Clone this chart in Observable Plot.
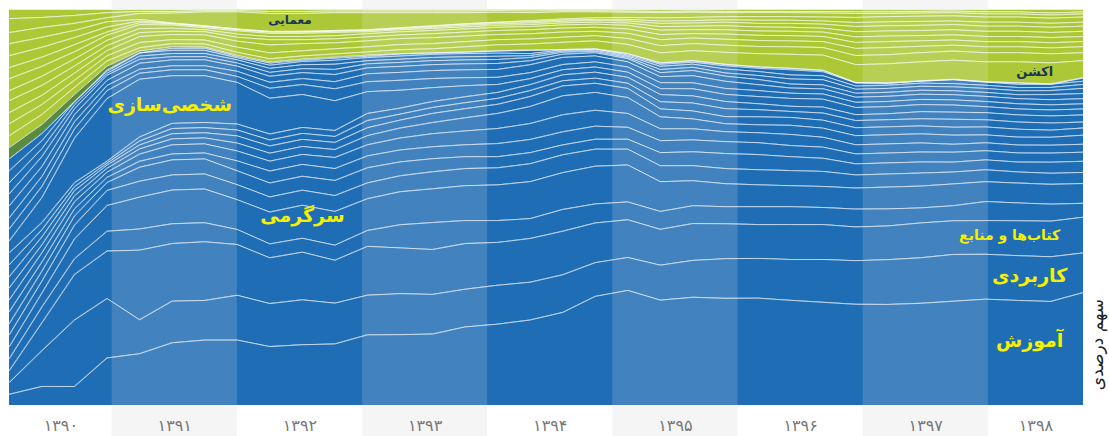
<!DOCTYPE html>
<html><head><meta charset="utf-8">
<script src="https://cdn.jsdelivr.net/npm/d3@7"></script>
<script src="https://cdn.jsdelivr.net/npm/@observablehq/plot@0.6"></script>
<style>html,body{margin:0;padding:0;background:#fff;} #chart svg{display:block}</style>
</head><body><div id="chart"></div>
<script>
// time points (fractional Persian years)
const periods = [1390.18,1390.44,1390.70,1390.96,1391.22,1391.48,1391.74,1392.00,1392.26,1392.52,1392.78,1393.04,1393.30,1393.56,1393.82,1394.08,1394.34,1394.60,1394.86,1395.12,1395.38,1395.64,1395.90,1396.16,1396.42,1396.68,1396.94,1397.20,1397.46,1397.72,1397.98,1398.24,1398.50,1398.76];
const years = [1390,1391,1392,1393,1394,1395,1396,1397,1398];
const yearLabels = ["۱۳۹۰","۱۳۹۱","۱۳۹۲","۱۳۹۳","۱۳۹۴","۱۳۹۵","۱۳۹۶","۱۳۹۷","۱۳۹۸"];

// app categories (share %, bottom to top)
const appEducation = [2.8,4.8,4.8,12,13,15.8,16.5,16.5,14.8,15.3,15.5,17.8,17.8,18,19.8,20.5,21.5,23.5,27.5,29,26.5,27.3,27,27,26.5,26,25.5,25.5,25.8,26.3,26.8,26.5,26.3,28.5];
const appTools = [3,9,16.8,15,8.5,10.5,10,11.3,10.8,11.3,10.3,10,10.3,10,9.5,9.8,9.5,9.5,8.5,8.3,8.8,9.3,10,10,10.3,10.8,11,11.3,11.5,11.8,11.3,11.3,11.3,10];
const appBooks = [3,7,11.5,12,17.5,14.5,14.8,12.8,11.5,12,10.8,12.3,11.5,11.3,11.5,10.8,11,11,10,9.5,9,9.3,8.8,8.5,8.8,8.8,8.5,8.5,8.8,8.5,8.5,8.8,9,9];
const appReligion = [3,4,4,5,5.3,5,4.8,3.8,3.5,3.5,3.8,4,5.8,6.8,5.8,5.5,5,5.5,4.8,4.5,4.5,4.5,4.3,4.5,4.5,4.3,4.5,4.3,3.8,3.8,4.8,4.5,4.3,3.5];
const appEntertainment = [3,3.5,5,6.5,8,8.5,8.5,7.5,8,8.3,8.5,8,8.3,8.5,8.8,9,9.3,9.3,9.5,9.3,7.5,6.3,5.8,5.5,5.3,5.3,5.3,5.5,5.5,5.5,5,5,5,5];
const appCommunication = [3,3,3.5,3.8,4,3.8,3.8,3.8,3.8,3.8,4,4,4,4.3,4.3,4.3,4.5,4.5,4.3,4,4,3.8,3.8,3.8,3.8,3.8,3.3,3.3,3.3,3,3,2.8,2.8,2.8];
const appSocial = [2.8,2.5,2.3,2,3.5,3.8,3.8,3.5,3.5,3.5,3.8,3.8,3.5,3.3,3,2.8,2.8,2.5,2.5,2.5,3.3,3.5,3.8,3.8,3.5,3.3,2.8,2.8,2.8,2.5,2.5,2.5,2.8,2.8];
const appPhoto = [3,2.3,1.8,1.3,1.5,1.5,1.5,2.5,3,3,3,3,3,3,3,3.3,3.3,3.3,3.3,3,3,3,3,3,2.8,2.8,2.5,2.5,2.5,2.5,2.3,2.3,2.3,2.3];
const appMusic = [3,2.3,1.8,1.3,1.8,2.3,2.3,2.5,2.5,2.5,2.8,2.8,3,3.3,3.5,3.8,4,4.3,4,3.5,3,2.8,2.5,2.5,2.8,2.5,2.3,2.3,2.3,2,2,2,2,2];
const appHealth = [3,2,1.5,1,1.3,1.5,1.5,2,2,2,2,2.3,2.5,2.8,3.3,3.8,4.3,4.8,4.5,4,3,2.5,2,2,2.3,2.3,2.3,2.3,2.3,2.3,2,2,2,2.3];
const appSports = [2.8,2,1.3,0.8,1,1.3,1.3,1.8,1.8,1.8,1.8,2,2,2.3,2.3,2.3,2.5,2.5,2.3,2.3,2,2,1.8,2,2,2,2,2,2,2,2,2,1.8,1.8];
const appCooking = [3,1.8,1,0.5,1,1.3,1.3,1.5,1.5,1.5,1.5,1.8,1.5,1.5,1.5,1.5,1.5,1.3,1.3,1.3,1.8,2,2,1.8,1.5,1.8,1.8,1.8,1.8,2,1.8,1.8,1.8,1.5];
const appShopping = [3,1.8,1,0.5,1,1.3,1.3,1.5,1.5,1.5,1.5,1.8,1.5,1.5,1.5,1.5,1.5,1.5,1.5,1.5,1.8,1.8,1.8,1.5,1.3,1.5,1.5,1.5,1.8,1.8,1.8,1.8,1.8,1.8];
const appPersonalization = [3,6.3,11.3,15.8,14.5,12,11.8,10.5,9,8.3,7.5,5.5,4.5,3.5,2.8,2,1.5,1.3,1.3,1.3,1.5,1.8,1.8,1.8,2,2,1.8,1.8,1.8,1.8,1.5,1.5,1.5,1.5];
const appTravel = [3,2.8,2.3,2,1.5,1.5,1.5,1.5,2.5,2.5,3,2.5,2.5,2.3,2,1.8,1.5,1.3,1.3,1.3,1.5,1.5,1.5,1.5,1.3,1.3,1.3,1.3,1.3,1.3,1.3,1.3,1.3,1.3];
const appFinance = [2.8,2.5,1.8,1.3,1,1,1,1.3,1.5,1.5,1.8,2,2,2,2,2,2,1.8,1.5,1.3,1.5,1.8,1.8,1.5,1.3,1.3,1.3,1.3,1.3,1.3,1.3,1.3,1.3,1.3];
const appNews = [3,2.5,1.8,1.3,1.5,1.5,1.5,1.3,1.5,1.5,1.8,1.5,1.5,1.5,1.5,1.5,1,0.8,0.8,0.8,1,1.3,1.3,1.3,1,1,1,1,1,1,1,1,1.3,1.3];
const appMaps = [3,2.5,1.5,1.3,1,0.8,0.8,0.8,1,1,1.3,1,1,1,1,1,0.8,0.5,0.3,0.3,0.8,0.8,0.8,1,1.3,1.3,1,1,1,1,1,1,1,1.3];
const appVideo = [2.8,2,1,0.5,0.8,0.8,0.8,0.8,1,1,1.3,0.8,0.8,0.8,0.8,0.8,0.5,0.3,0.3,0.3,0.8,0.8,1,1,1,1,0.8,0.8,0.8,0.8,0.8,0.8,0.8,1];
const appProductivity = [3,2,0.8,0.5,0.8,0.8,0.8,0.5,0.8,0.8,1,0.8,0.8,0.8,0.8,0.8,0.5,0.3,0.3,0.3,0.5,0.5,0.8,0.8,1.3,1,0.8,0.5,0.5,1,0.8,0.8,0.8,0.8];
const appOther = [3,1.8,0,0.3,0,0.5,0.5,0.3,0.5,0.3,0.5,0.3,0.5,0.3,0.3,0.5,0.8,0,0,0.3,0.3,0.3,0.3,0.3,0.3,0.3,0,0,0,0,0,0.3,0,0.8];

// game categories (share %, bottom to top)
const gameOther = [2.8,2.3,1.8,1,0.5,0.4,0.3,0.3,0.3,0.3,0.3,0.3,0.1,0.1,0.1,0.1,0.1,0.1,0.1,0.1,0.1,0.1,0.1,0.1,0.1,0.1,0.1,0.1,0.1,0.1,0.1,0.1,0.1,0.1];
const gameAction = [3,2.5,1.8,1.3,0.8,0.8,0.8,0.8,0.8,0.8,0.8,0.8,1,1,1.3,1.5,1.5,1.8,2,2.3,2.5,2.5,3,3.3,3.5,3.8,4.5,4.8,4.8,4.8,5,5.3,5.3,4.3];
const gameSports = [3,2.5,1.8,1.3,1.3,1,1,1.3,1.5,1.3,1.3,1.3,1.3,1.3,1.3,1.3,1.3,1.3,1.3,1.5,1.8,1.8,1.8,1.8,1.9,1.9,2.3,2.3,2.3,2.3,2.3,2.3,2.3,2];
const gameCasual = [2.8,2.3,1.8,1.3,1.5,1.3,1.3,1.5,2,1.8,1.5,1.5,1.5,1.5,1.4,1.3,1.3,1.3,1.1,1.3,1.5,1.4,1.5,1.5,1.5,1.5,1.8,1.8,1.6,1.5,1.5,1.5,1.5,1.5];
const gameRacing = [3,2.5,1.8,1.3,1,0.8,0.8,1,1.3,1,1,1,0.9,1,1,1,1,1,1,1.1,1.3,1.1,1.3,1.3,1.3,1.3,1.5,1.5,1.4,1.3,1.3,1.3,1.3,1.3];
const gameWord = [2.5,2.3,1.8,1.3,1,0.8,0.5,0.8,0.8,0.8,0.8,0.8,0.8,0.8,0.8,0.8,0.8,0.8,0.8,0.9,1.1,1,1.1,1.1,1.1,1.1,1.4,1.4,1.3,1.3,1.3,1.3,1.3,1.3];
const gameAdventure = [3,2.5,1.8,1.3,1,0.8,0.5,0.8,0.8,0.8,0.8,0.5,0.5,0.5,0.5,0.5,0.5,0.5,0.5,0.6,0.9,0.9,1,1,1,1,1.3,1.3,1.3,1.3,1.3,1.3,1.3,1.3];
const gameStrategy = [2.8,2.3,1.8,0.8,0.5,0.3,0.3,0.3,0.3,0.3,0.3,0.3,0.3,0.3,0.4,0.4,0.4,0.4,0.4,0.5,0.8,0.8,0.9,0.9,1,1,1.3,1.3,1.3,1.3,1.3,1.3,1.3,1.3];
const gameSimulation = [3,2.5,1.8,1.3,0.4,0.1,0.1,0.1,0.1,0.1,0.1,0.1,0.1,0.3,0.3,0.3,0.3,0.3,0.3,0.4,0.6,0.6,0.6,0.8,0.8,0.8,1,1,1,0.9,1,1,1,1];
const gameCards = [3,2.5,1.8,1.3,0.4,0.1,0.1,0.1,0.1,0.1,0.1,0.1,0.1,0.1,0.1,0.1,0.3,0.3,0.4,0.5,0.8,0.8,0.8,0.9,0.9,1,1.3,1.3,1.3,1.3,1.3,1.3,1.3,1.3];
const gamePuzzle = [2.8,2.5,1.8,1,1.5,2.5,3.5,4.3,4.5,4.5,4.5,4.3,3.8,3.3,2.8,2.5,2,1.8,1.5,1.3,1.3,1.3,1,1,1,1,1,0.8,0.8,0.8,0.8,0.8,0.8,0.8];
const gameRolePlaying = [3.5,2.5,2,1.3,0.5,0.4,0.3,0.3,0.5,0.5,0.4,0.4,0.4,0.4,0.4,0.4,0.4,0.3,0.3,0.3,0.3,0.3,0.3,0.3,0.3,0.4,0.4,0.4,0.4,0.4,0.5,0.5,0.5,0.5];
const gameBoard = [2.3,2,1.5,0.8,0.5,0.5,0.3,0.3,0.5,0.5,0.4,0.4,0.4,0.4,0.4,0.3,0.4,0.3,0.3,0.4,0.5,0.4,0.5,0.5,0.5,0.5,0.6,0.6,0.5,0.4,0.6,0.6,0.9,0.6];

const appSeries = [
  ["آموزش", appEducation], ["کاربردی", appTools], ["کتاب‌ها و منابع", appBooks], ["مذهبی", appReligion],
  ["سرگرمی", appEntertainment], ["ارتباطات", appCommunication], ["اجتماعی", appSocial], ["عکاسی", appPhoto],
  ["موسیقی", appMusic], ["سلامت", appHealth], ["ورزش", appSports], ["آشپزی", appCooking], ["خرید", appShopping],
  ["شخصی‌سازی", appPersonalization], ["سفر", appTravel], ["مالی", appFinance], ["اخبار", appNews],
  ["نقشه", appMaps], ["ویدیو", appVideo], ["بهره‌وری", appProductivity], ["سایر برنامه‌ها", appOther]
];
const darkSeries = [["سایر بازی‌ها", gameOther]];
const gameSeries = [
  ["اکشن", gameAction], ["ورزشی", gameSports], ["تفننی", gameCasual], ["مسابقه‌ای", gameRacing],
  ["کلمات", gameWord], ["ماجرایی", gameAdventure], ["استراتژیک", gameStrategy], ["شبیه‌سازی", gameSimulation],
  ["کارتی", gameCards], ["معمایی", gamePuzzle], ["نقش‌آفرینی", gameRolePlaying], ["تخته‌ای", gameBoard]
];
const groupColor = {app: "#1f6db5", dark: "#5a8a3b", game: "#adc836"};

const table = [];
const order = [];
for (const [group, list] of [["app", appSeries], ["dark", darkSeries], ["game", gameSeries]]) {
  for (const [name, values] of list) {
    order.push(name);
    values.forEach((v, i) => table.push({t: periods[i], name, value: v, color: groupColor[group]}));
  }
}

// annotations
const appLabelText = ["شخصی‌سازی", "سرگرمی", "کتاب‌ها و منابع", "کاربردی", "آموزش"];
const appLabelT = [1391.46, 1392.52, 1398.17, 1398.33, 1398.33];
const appLabelShare = [0.758, 0.48, 0.429, 0.328, 0.164];
const appLabelSize = [19, 19, 14, 19, 19];
const gameLabelText = ["معمایی", "اکشن"];
const gameLabelT = [1392.42, 1398.37];
const gameLabelShare = [0.972, 0.843];
const gameLabelSize = [12, 13];

const t0 = periods[0], t1 = periods[periods.length - 1];
const oddYears = years.filter(y => y % 2 === 1);
const fontFa = "DejaVu Sans, Noto Sans, sans-serif";

const chart = Plot.plot({
  width: 1109, height: 436,
  marginLeft: 9, marginRight: 26, marginTop: 9, marginBottom: 31,
  x: {domain: [t0, t1], axis: null},
  y: {domain: [0, 1], axis: null},
  color: {type: "identity"},
  style: {background: "#fff"},
  marks: [
    Plot.rect(oddYears, {x1: d => d, x2: d => d + 1, fill: "#f5f5f5", insetTop: -9, insetBottom: -31}),
    Plot.areaY(table, {x: "t", y: "value", z: "name", fill: "color", order, offset: "normalize", curve: "linear"}),
    Plot.rect(oddYears, {x1: d => d, x2: d => d + 1, fill: "#f5f5f5", fillOpacity: 0.17}),
    Plot.lineY(table, Plot.stackY2({x: "t", y: "value", z: "name", order, offset: "normalize", stroke: "white", strokeOpacity: 0.72, strokeWidth: 1, curve: "linear"})),
    Plot.text(years, {x: y => (Math.max(y, t0) + Math.min(y + 1, t1)) / 2, text: (y, i) => yearLabels[i], frameAnchor: "bottom", lineAnchor: "middle", dy: 20, fill: "#777", fontSize: 16, fontFamily: fontFa}),
    Plot.text(appLabelText, {x: (d, i) => appLabelT[i], y: (d, i) => appLabelShare[i], text: d => d, fontSize: (d, i) => appLabelSize[i], fill: "#f4f000", fontWeight: "bold", fontFamily: fontFa}),
    Plot.text(gameLabelText, {x: (d, i) => gameLabelT[i], y: (d, i) => gameLabelShare[i], text: d => d, fontSize: (d, i) => gameLabelSize[i], fill: "#1b3556", fontWeight: "bold", fontFamily: fontFa}),
    Plot.text(["سهم درصدی"], {frameAnchor: "bottom-right", textAnchor: "middle", lineAnchor: "middle", dx: 14, dy: -61, rotate: -90, fill: "#222", fontSize: 17, fontFamily: fontFa})
  ]
});
document.getElementById("chart").appendChild(chart);
</script>
</body></html>
